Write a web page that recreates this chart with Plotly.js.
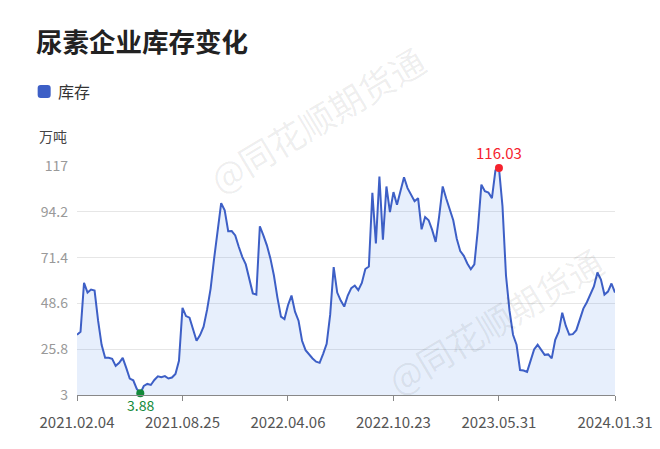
<!DOCTYPE html>
<html>
<head>
<meta charset="utf-8">
<script src="https://cdn.plot.ly/plotly-3.0.1.min.js"></script>
<style>
html,body{margin:0;padding:0;background:#fff;}
#chart{width:660px;height:449px;}
</style>
</head>
<body>
<div id="chart"></div>
<script>
// Weekly urea enterprise inventory (万吨)
const inventory = [
  33, 34.5, 58.8, 54, 55.5, 55, 40, 28, 21.5, 21.5,
  21, 17.5, 19, 21.5, 16.5, 11.2, 10.3, 6, 3.88, 7.5,
  8.5, 8, 10.5, 12.3, 11.8, 12.4, 11.2, 11.7, 13.5, 20,
  46.4, 42.3, 41.5, 35.5, 30, 32.8, 37, 45.5, 56, 71,
  84, 98.5, 94.9, 84.5, 84.6, 82.4, 76.8, 71.8, 68, 61.5,
  53.6, 53, 87, 82.5, 77.5, 71, 62.5, 51.5, 42, 40.8,
  47.7, 52.5, 44.5, 40, 30, 25.3, 23, 21.2, 19.6, 19,
  23.5, 28.5, 43, 66.7, 54, 50, 47, 52.5, 56.2, 57.5,
  55.2, 58.8, 65.7, 67, 103.7, 78.4, 111.8, 80.3, 106.8, 94,
  104, 97.7, 104.5, 111.4, 106, 103, 99.5, 101, 85.5, 91.6,
  90, 85.2, 79.2, 92, 106.8, 100.8, 95, 90, 80.8, 74.6,
  72.3, 68.5, 65.6, 68, 85.5, 107.7, 104.5, 103.8, 101, 114.8,
  116.03, 97, 62.5, 45, 33, 28, 15.4, 15.2, 14.5, 20.5,
  25.7, 28, 25.7, 23, 23.2, 21.2, 30.5, 34.5, 44, 37.5,
  33, 33.3, 35.3, 40.5, 46, 49.2, 53, 57, 64, 60.5,
  53, 54.5, 58.5, 54
];
const tickLabels = ['2021.02.04', '2021.08.25', '2022.04.06', '2022.10.23', '2023.05.31', '2024.01.31'];
const tickIndex = [0, 30, 60, 90, 120, 153];
const yTicks = [3, 25.8, 48.6, 71.4, 94.2, 117];
const seriesName = '库存';
const chartTitle = '尿素企业库存变化';
const unitLabel = '万吨';

const idx = inventory.map((_, i) => i);
let maxI = 0, minI = 0;
inventory.forEach((v, i) => { if (v > inventory[maxI]) maxI = i; if (v < inventory[minI]) minI = i; });

const FONT = '"Noto Sans CJK SC", "Noto Sans", sans-serif';
const lineColor = '#3d5fc6';
const PW = 537.5, PH = 229.3, PL = 77.3, PB = 395;
const px = v => (v - PL) / PW;
const py = v => (PB - v) / PH;

// rounded legend square path (paper coords)
function roundRect(x0, y0, x1, y1, r) {
  const P = (x, y) => px(x).toFixed(5) + ',' + py(y).toFixed(5);
  return 'M' + P(x0 + r, y0) + ' L' + P(x1 - r, y0) + ' Q' + P(x1, y0) + ' ' + P(x1, y0 + r) +
    ' L' + P(x1, y1 - r) + ' Q' + P(x1, y1) + ' ' + P(x1 - r, y1) +
    ' L' + P(x0 + r, y1) + ' Q' + P(x0, y1) + ' ' + P(x0, y1 - r) +
    ' L' + P(x0, y0 + r) + ' Q' + P(x0, y0) + ' ' + P(x0 + r, y0) + ' Z';
}

const traces = [
  {
    x: idx, y: inventory, type: 'scatter', mode: 'lines', name: seriesName,
    line: {color: lineColor, width: 2}, fill: 'tozeroy', fillcolor: 'rgba(70,130,235,0.13)',
    showlegend: false, hoverinfo: 'skip'
  },
  {
    x: [maxI], y: [inventory[maxI]], type: 'scatter', mode: 'markers',
    marker: {color: '#f5222d', size: 8}, showlegend: false, cliponaxis: false
  },
  {
    x: [minI], y: [inventory[minI]], type: 'scatter', mode: 'markers',
    marker: {color: '#13893a', size: 8}, showlegend: false, cliponaxis: false
  }
];

const layout = {
  width: 660, height: 449,
  margin: {l: 77.3, r: 45.2, t: 165.7, b: 54},
  paper_bgcolor: '#fff', plot_bgcolor: '#fff',
  font: {family: FONT},
  title: {
    text: '<b>' + chartTitle + '</b>', font: {size: 26.5, color: '#222', family: FONT},
    xref: 'container', yref: 'container', x: 36/660, xanchor: 'left', y: 1 - 43/449, yanchor: 'middle'
  },
  xaxis: {
    type: 'linear', range: [0, inventory.length - 1],
    tickmode: 'array', tickvals: tickIndex, ticktext: tickLabels,
    showgrid: false, zeroline: false, showline: true, linecolor: '#888', linewidth: 1,
    ticks: 'outside', ticklen: 5, tickcolor: '#888', ticklabelstandoff: 9,
    tickfont: {size: 15, color: '#555', family: FONT}
  },
  yaxis: {
    range: [3, 117], tickmode: 'array', tickvals: yTicks, ticktext: yTicks.map(String),
    showgrid: true, gridcolor: '#e6e6e6', gridwidth: 1, zeroline: false, showline: false,
    ticks: '', ticklabelstandoff: 8,
    tickfont: {size: 14, color: '#999', family: FONT}
  },
  shapes: [{
    type: 'path', xref: 'paper', yref: 'paper', path: roundRect(38, 84.5, 51, 97.5, 3),
    fillcolor: lineColor, line: {width: 0}
  }],
  annotations: [
    {xref: 'x', yref: 'y', x: maxI, y: inventory[maxI], text: inventory[maxI].toFixed(2),
     showarrow: false, yshift: 15, font: {size: 15, color: '#f5222d', family: FONT}},
    {xref: 'x', yref: 'y', x: minI, y: inventory[minI], text: inventory[minI].toFixed(2),
     showarrow: false, yshift: -12, font: {size: 14, color: '#13893a', family: FONT}},
    {xref: 'paper', yref: 'paper', x: px(56), y: py(91), xanchor: 'left', yanchor: 'middle',
     text: seriesName, showarrow: false, font: {size: 16, color: '#333', family: FONT}},
    {xref: 'paper', yref: 'paper', x: px(37.5), y: py(136), xanchor: 'left', yanchor: 'middle',
     text: unitLabel, showarrow: false, font: {size: 14, color: '#444', family: FONT}},
    {xref: 'paper', yref: 'paper', x: px(317), y: py(118), xanchor: 'center', yanchor: 'middle',
     text: '@同花顺期货通', textangle: -31, showarrow: false, font: {size: 35, color: 'rgba(0,0,0,0.07)', family: FONT}},
    {xref: 'paper', yref: 'paper', x: px(494), y: py(320), xanchor: 'center', yanchor: 'middle',
     text: '@同花顺期货通', textangle: -31, showarrow: false, font: {size: 35, color: 'rgba(0,0,0,0.07)', family: FONT}}
  ]
};

Plotly.newPlot('chart', traces, layout, {displayModeBar: false, staticPlot: true});
</script>
</body>
</html>
